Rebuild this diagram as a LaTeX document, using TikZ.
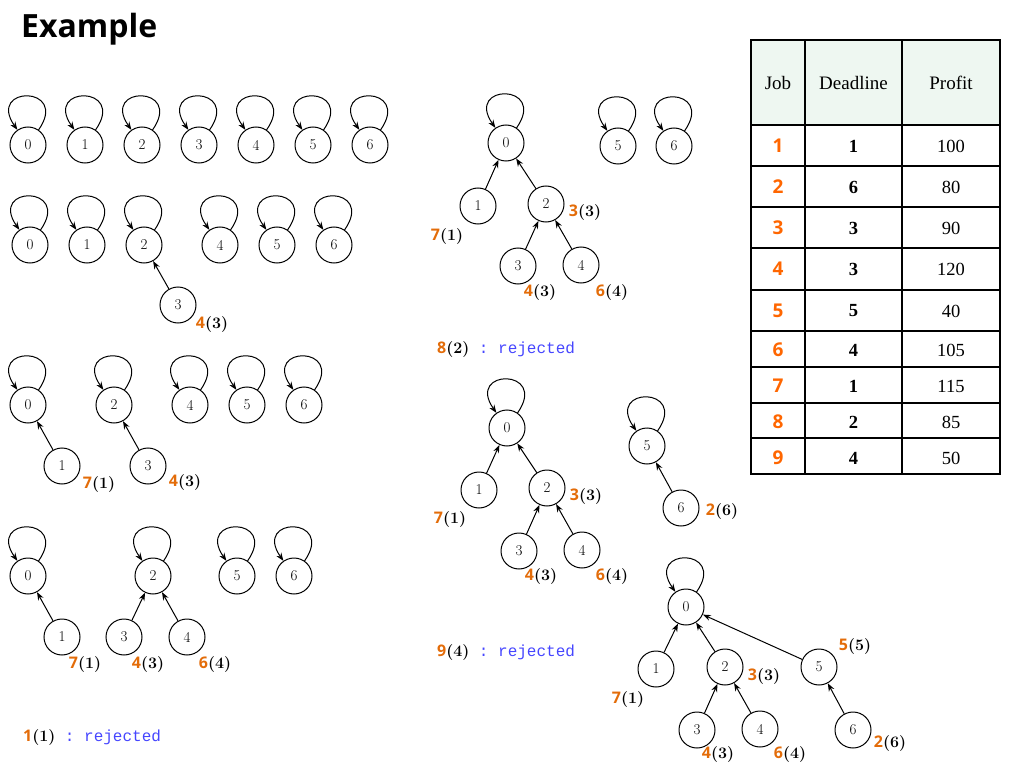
\documentclass[tikz,border=0pt]{standalone}
\usepackage{fontspec}
\usetikzlibrary{arrows.meta}
\newfontfamily\sansf{Open Sans}
\newfontfamily\serf{Liberation Serif}
\newfontfamily\monof{Liberation Mono}
\definecolor{lorange}{HTML}{E36C09}
\definecolor{torange}{HTML}{FF6600}
\definecolor{rblue}{HTML}{4646FF}
\definecolor{hdr}{HTML}{EEF7F1}
\newcommand{\lb}[2]{{\sansf\bfseries\color{lorange}#1}{\bfseries(#2)}}
\tikzset{
  v/.style={circle,draw,line width=1pt,minimum size=36pt,inner sep=0pt,font=\fontsize{15}{17}\selectfont},
  e/.style={line width=1pt,-{Stealth[length=8pt,width=6pt]}},
  sl/.style={e,out=55,in=125,looseness=6.6},
  lab/.style={font=\fontsize{16}{18}\selectfont,inner sep=0pt},
  rej/.style={font=\fontsize{16}{18}\selectfont,inner sep=0pt,anchor=west},
  th/.style={font=\serf\fontsize{19}{21}\selectfont,inner sep=0pt},
  tj/.style={font=\sansf\bfseries\fontsize{19}{21}\selectfont,text=torange,inner sep=0pt},
  td/.style={font=\serf\bfseries\fontsize{18.5}{21}\selectfont,inner sep=0pt},
  tp/.style={font=\serf\fontsize{18.5}{21}\selectfont,inner sep=0pt},
  grid/.style={line width=1.3pt}
}
\newcommand{\rj}{{\monof\fontsize{16}{18}\selectfont\color{rblue}\ :\ rejected}}
\begin{document}
\begin{tikzpicture}[x=1pt,y=1pt]
\path[use as bounding box] (0,0) rectangle (1018,-765);
% title
\node[anchor=west,inner sep=0pt,font=\sansf\bfseries\fontsize{32}{35}\selectfont] (title) at (21,-29) {Example};

% row 1
\foreach \i/\x in {0/28,1/85,2/142,3/199,4/256,5/313,6/370}{
  \node[v] (a\i) at (\x,-145) {\i};
  \draw[sl] (a\i) to (a\i);
}
% row 2
\foreach \i/\x in {0/30,1/87,2/144,4/220,5/277,6/334}{
  \node[v] (b\i) at (\x,-245) {\i};
  \draw[sl] (b\i) to (b\i);
}
\node[v] (b3) at (178,-305) {3};
\draw[e] (b3) -- (b2);
\node[lab] (lb1) at (212,-325) {\lb{4}{3}};

% row 3
\foreach \i/\x in {0/28,2/114,4/190,5/247,6/304}{
  \node[v] (c\i) at (\x,-405) {\i};
  \draw[sl] (c\i) to (c\i);
}
\node[v] (c1) at (62,-466) {1};
\node[v] (c3) at (148,-466) {3};
\draw[e] (c1) -- (c0);
\draw[e] (c3) -- (c2);
\node[lab] (lc1) at (99,-485) {\lb{7}{1}};
\node[lab] (lc2) at (185,-483) {\lb{4}{3}};

% row 4
\foreach \i/\x in {0/28,2/153,5/237,6/294}{
  \node[v] (d\i) at (\x,-576) {\i};
  \draw[sl] (d\i) to (d\i);
}
\node[v] (d1) at (62,-637) {1};
\node[v] (d3) at (124,-637) {3};
\node[v] (d4) at (187,-637) {4};
\draw[e] (d1) -- (d0);
\draw[e] (d3) -- (d2);
\draw[e] (d4) -- (d2);
\node[lab] (ld1) at (85,-665) {\lb{7}{1}};
\node[lab] (ld2) at (148,-665) {\lb{4}{3}};
\node[lab] (ld3) at (215,-665) {\lb{6}{4}};
\node[rej] (rj1) at (23,-738) {\lb{1}{1}\rj};

% middle top
\node[v] (e0) at (506,-143) {0};
\node[v] (e1) at (478,-206) {1};
\node[v] (e2) at (546,-204) {2};
\node[v] (e3) at (518,-266) {3};
\node[v] (e4) at (581,-265) {4};
\node[v] (e5) at (618,-146) {5};
\node[v] (e6) at (674,-146) {6};
\draw[sl] (e0) to (e0);
\draw[sl] (e5) to (e5);
\draw[sl] (e6) to (e6);
\draw[e] (e1) -- (e0);
\draw[e] (e2) -- (e0);
\draw[e] (e3) -- (e2);
\draw[e] (e4) -- (e2);
\node[lab] (le1) at (585,-213) {\lb{3}{3}};
\node[lab] (le2) at (447,-237) {\lb{7}{1}};
\node[lab] (le3) at (540,-293) {\lb{4}{3}};
\node[lab] (le4) at (612,-293) {\lb{6}{4}};
\node[rej] (rj2) at (437,-350) {\lb{8}{2}\rj};

% middle 2
\node[v] (f0) at (507,-428) {0};
\node[v] (f1) at (479,-490) {1};
\node[v] (f2) at (547,-488) {2};
\node[v] (f3) at (519,-551) {3};
\node[v] (f4) at (582,-550) {4};
\node[v] (f5) at (647,-446) {5};
\node[v] (f6) at (681,-508) {6};
\draw[sl] (f0) to (f0);
\draw[sl] (f5) to (f5);
\draw[e] (f1) -- (f0);
\draw[e] (f2) -- (f0);
\draw[e] (f3) -- (f2);
\draw[e] (f4) -- (f2);
\draw[e] (f6) -- (f5);
\node[lab] (lf1) at (586,-497) {\lb{3}{3}};
\node[lab] (lf2) at (450,-520) {\lb{7}{1}};
\node[lab] (lf3) at (541,-577) {\lb{4}{3}};
\node[lab] (lf4) at (612,-577) {\lb{6}{4}};
\node[lab] (lf5) at (722,-512) {\lb{2}{6}};
\node[rej] (rj3) at (437,-653) {\lb{9}{4}\rj};

% bottom right
\node[v] (g0) at (686,-607) {0};
\node[v] (g1) at (656,-669) {1};
\node[v] (g2) at (725,-667) {2};
\node[v] (g3) at (697,-730) {3};
\node[v] (g4) at (760,-729) {4};
\node[v] (g5) at (819,-667) {5};
\node[v] (g6) at (853,-730) {6};
\draw[sl] (g0) to (g0);
\draw[e] (g1) -- (g0);
\draw[e] (g2) -- (g0);
\draw[e] (g5) -- (g0);
\draw[e] (g3) -- (g2);
\draw[e] (g4) -- (g2);
\draw[e] (g6) -- (g5);
\node[lab] (lg1) at (855,-647) {\lb{5}{5}};
\node[lab] (lg2) at (764,-677) {\lb{3}{3}};
\node[lab] (lg3) at (628,-700) {\lb{7}{1}};
\node[lab] (lg4) at (718,-755) {\lb{4}{3}};
\node[lab] (lg5) at (790,-755) {\lb{6}{4}};
\node[lab] (lg6) at (890,-744) {\lb{2}{6}};

% table
\fill[hdr] (751,-40) rectangle (1000,-125);
\draw[grid] (751,-40) rectangle (1000,-474);
\foreach \y in {125,166,207,248,290,331,367,403,438}{
  \draw[grid] (751,-\y) -- (1000,-\y);
}
\draw[grid] (805,-40) -- (805,-474);
\draw[grid] (902,-40) -- (902,-474);
\node[th] (hj) at (778,-83) {Job};
\node[th] (hd) at (853.5,-83) {Deadline};
\node[th] (hp) at (951,-83) {Profit};
\foreach \j/\d/\p/\y in {1/1/100/146,2/6/80/187,3/3/90/228,4/3/120/269,5/5/40/311,6/4/105/350,7/1/115/386,8/2/85/422,9/4/50/458}{
  \node[tj] (j\j) at (778,-\y) {\j};
  \node[td] (dl\j) at (853.5,-\y) {\d};
  \node[tp] (pr\j) at (951,-\y) {\p};
}
\end{tikzpicture}
\end{document}
